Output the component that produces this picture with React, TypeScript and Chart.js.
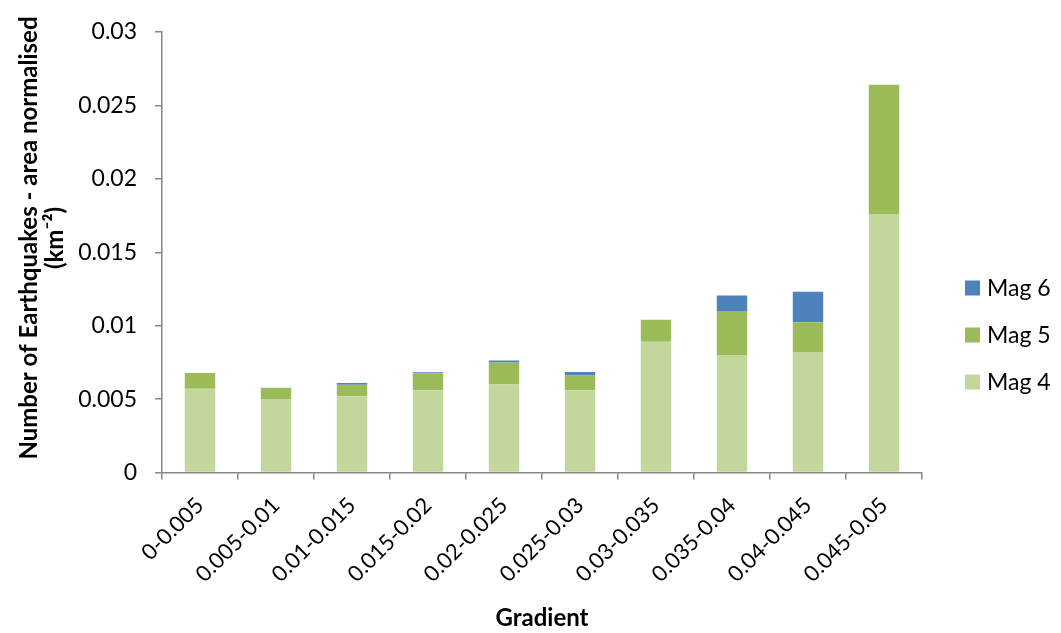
import React, { useEffect, useRef } from "react";
import { Chart, registerables } from "chart.js";

Chart.register(...registerables);

const gradientBins = [
  "0-0.005",
  "0.005-0.01",
  "0.01-0.015",
  "0.015-0.02",
  "0.02-0.025",
  "0.025-0.03",
  "0.03-0.035",
  "0.035-0.04",
  "0.04-0.045",
  "0.045-0.05",
];

const mag4 = [0.0057, 0.005, 0.0052, 0.0056, 0.006, 0.0056, 0.0089, 0.008, 0.0082, 0.0176];
const mag5 = [0.00107, 0.00077, 0.00077, 0.00116, 0.0015, 0.001, 0.0015, 0.003, 0.00204, 0.0088];
const mag6 = [0, 0, 0.00012, 0.00007, 0.00013, 0.00024, 0, 0.00105, 0.00207, 0];

const yTickLabels = ["0", "0.005", "0.01", "0.015", "0.02", "0.025", "0.03"];
const yTitleLines = ["Number of Earthquakes - area normalised", "(km\u207B\u00B2)"];

const FONT = "Lato, 'Open Sans', sans-serif";
const AXIS_GREY = "#868686";

// Legend drawn on the right of the plot, top entry first (Mag 6 above Mag 4).
const sideLegend = {
  id: "sideLegend",
  afterDraw(chart: any) {
    const { ctx, chartArea } = chart;
    const x = chartArea.right + 43;
    const firstY = chartArea.top + 256;
    const step = 47;
    const items = chart.data.datasets
      .map((d: any) => ({ label: d.label, color: d.backgroundColor }))
      .reverse();
    ctx.save();
    ctx.font = `23px ${FONT}`;
    ctx.textBaseline = "middle";
    ctx.textAlign = "left";
    items.forEach((it: any, i: number) => {
      const cy = firstY + i * step;
      ctx.fillStyle = it.color;
      ctx.fillRect(x, cy - 7.5, 15, 15);
      ctx.fillStyle = "#000";
      ctx.fillText(it.label, x + 22, cy + 1);
    });
    ctx.restore();
  },
};

// Two-line vertical title of the value axis, placed left of the tick labels.
const valueAxisTitle = {
  id: "valueAxisTitle",
  afterDraw(chart: any) {
    const { ctx } = chart;
    const centreY = 238;
    ctx.save();
    ctx.font = `bold 24px ${FONT}`;
    ctx.fillStyle = "#000";
    ctx.textAlign = "center";
    ctx.textBaseline = "middle";
    yTitleLines.forEach((line, i) => {
      ctx.save();
      ctx.translate(29 + i * 26, centreY);
      ctx.rotate(-Math.PI / 2);
      ctx.fillText(line, 0, 0);
      ctx.restore();
    });
    ctx.restore();
  },
};

export default function App() {
  const canvasRef = useRef<HTMLCanvasElement | null>(null);

  useEffect(() => {
    if (!canvasRef.current) return;
    const chart = new Chart(canvasRef.current, {
      type: "bar",
      data: {
        labels: gradientBins,
        datasets: [
          { label: "Mag 4", data: mag4, backgroundColor: "#C3D69B" },
          { label: "Mag 5", data: mag5, backgroundColor: "#9BBB59" },
          { label: "Mag 6", data: mag6, backgroundColor: "#4F81BD" },
        ],
      },
      options: {
        responsive: false,
        animation: false,
        barPercentage: 0.4,
        categoryPercentage: 1,
        layout: { padding: { top: 32, right: 139, bottom: 0, left: 0 } },
        plugins: {
          legend: { display: false },
          tooltip: { enabled: false },
        },
        scales: {
          x: {
            stacked: true,
            grid: {
              offset: true,
              drawOnChartArea: false,
              tickLength: 7,
              color: AXIS_GREY,
              lineWidth: 1.5,
            },
            border: { display: true, color: AXIS_GREY, width: 1.5 },
            ticks: {
              minRotation: 45,
              maxRotation: 45,
              padding: 13,
              color: "#000",
              font: { family: FONT, size: 22 },
            },
            title: {
              display: true,
              text: "Gradient",
              color: "#000",
              font: { family: FONT, size: 24, weight: "bold" },
              padding: { top: 0, bottom: 0 },
            },
            afterFit(scale: any) {
              scale.height = 160.5;
            },
          },
          y: {
            stacked: true,
            min: 0,
            max: 0.03,
            grid: {
              drawOnChartArea: false,
              tickLength: 7,
              color: AXIS_GREY,
              lineWidth: 1.5,
            },
            border: { display: true, color: AXIS_GREY, width: 1.5 },
            ticks: {
              stepSize: 0.005,
              padding: 18,
              color: "#000",
              font: { family: FONT, size: 23 },
              callback: (_v: any, i: number) => yTickLabels[i],
            },
            afterFit(scale: any) {
              scale.width = 162;
            },
          },
        },
      },
      plugins: [sideLegend, valueAxisTitle],
    });
    return () => chart.destroy();
  }, []);

  return (
    <div style={{ position: "absolute", left: 0, top: 0, width: 1061, height: 633, background: "#fff" }}>
      <canvas ref={canvasRef} width={1061} height={633} style={{ display: "block" }} />
    </div>
  );
}
